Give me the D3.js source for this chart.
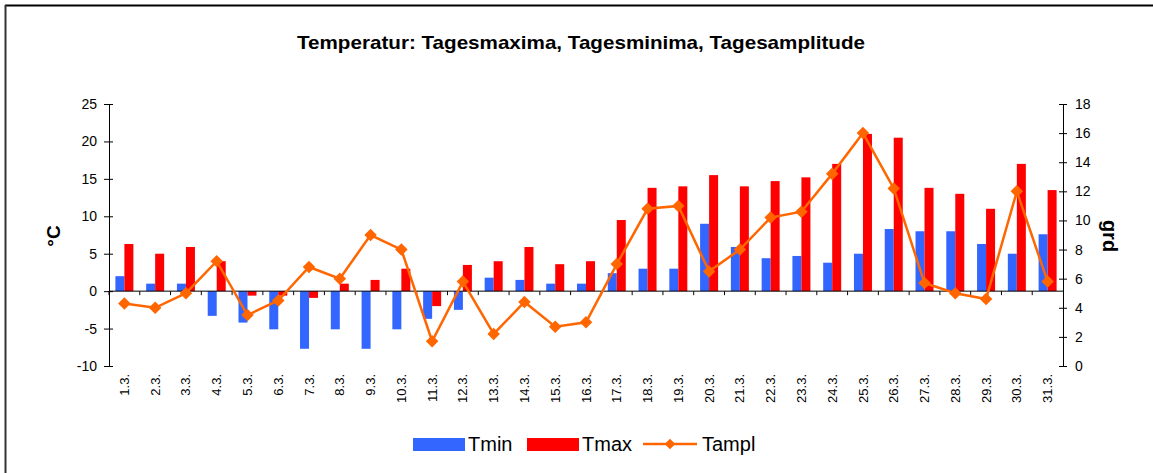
<!DOCTYPE html>
<html>
<head>
<meta charset="utf-8">
<title>Temperatur</title>
<script src="https://d3js.org/d3.v7.min.js"></script>
<style>
  body { margin: 0; background: #fff; }
  svg { display: block; font-family: "Liberation Sans", Arial, sans-serif; }
  .tick text { fill: #000; }
</style>
</head>
<body>
<div id="chart"></div>
<script>
// data
var days = ["1.3.","2.3.","3.3.","4.3.","5.3.","6.3.","7.3.","8.3.","9.3.","10.3.",
            "11.3.","12.3.","13.3.","14.3.","15.3.","16.3.","17.3.","18.3.","19.3.","20.3.",
            "21.3.","22.3.","23.3.","24.3.","25.3.","26.3.","27.3.","28.3.","29.3.","30.3.","31.3."];
var tmin = [2.0, 1.0, 1.0, -3.3, -4.2, -5.1, -7.7, -5.1, -7.7, -5.1,
            -3.7, -2.5, 1.8, 1.5, 1.0, 1.0, 2.4, 3.0, 3.0, 9.0,
            5.9, 4.4, 4.7, 3.8, 5.0, 8.3, 8.0, 8.0, 6.3, 5.0, 7.6];
var tmax = [6.3, 5.0, 5.9, 4.0, -0.6, -0.6, -0.9, 1.0, 1.5, 3.0,
            -2.0, 3.5, 4.0, 5.9, 3.6, 4.0, 9.5, 13.8, 14.0, 15.5,
            14.0, 14.7, 15.2, 17.0, 21.0, 20.5, 13.8, 13.0, 11.0, 17.0, 13.5];
var tampl = [4.3, 4.0, 5.0, 7.2, 3.5, 4.5, 6.8, 6.0, 9.0, 8.0,
             1.7, 5.8, 2.2, 4.4, 2.7, 3.0, 7.0, 10.8, 11.0, 6.5,
             8.0, 10.2, 10.6, 13.2, 16.0, 12.2, 5.7, 5.0, 4.6, 12.0, 5.8];
var leftTicks = [-10, -5, 0, 5, 10, 15, 20, 25];
var rightTicks = [0, 2, 4, 6, 8, 10, 12, 14, 16, 18];

var width = 1153, height = 473;
var plotLeft = 109, plotRight = 1063, plotTop = 104, plotBottom = 366;
var blue = "#3366ff", red = "#ff0000", orange = "#ff6600";

var svg = d3.select("#chart").append("svg")
    .attr("width", width)
    .attr("height", height);

// outer frame (top and left edge only visible)
svg.append("line").attr("x1", 5).attr("x2", width).attr("y1", 5.5).attr("y2", 5.5)
    .attr("stroke", "#000").attr("stroke-width", 2);
svg.append("line").attr("x1", 5.5).attr("x2", 5.5).attr("y1", 5).attr("y2", height)
    .attr("stroke", "#333").attr("stroke-width", 2);

svg.append("text")
    .attr("x", 581).attr("y", 49)
    .attr("text-anchor", "middle")
    .attr("textLength", 568)
    .attr("lengthAdjust", "spacingAndGlyphs")
    .style("font-size", "19px").style("font-weight", "bold")
    .text("Temperatur: Tagesmaxima, Tagesminima, Tagesamplitude");

var x = d3.scaleBand().domain(days).range([plotLeft, plotRight])
    .paddingInner(0.415).paddingOuter(0.2075);
var x1 = d3.scaleBand().domain(["tmin", "tmax"]).range([0, x.bandwidth()]);
var y = d3.scaleLinear().domain([-10, 25]).range([plotBottom, plotTop]);
var y2 = d3.scaleLinear().domain([0, 18]).range([plotBottom, plotTop]);

// bars
var series = [{key: "tmin", values: tmin, color: blue}, {key: "tmax", values: tmax, color: red}];
series.forEach(function(s) {
  svg.append("g").selectAll("rect")
    .data(s.values)
    .enter().append("rect")
    .attr("x", function(d, i) { return x(days[i]) + x1(s.key); })
    .attr("width", x1.bandwidth())
    .attr("y", function(d) { return y(Math.max(0, d)); })
    .attr("height", function(d) { return Math.abs(y(d) - y(0)); })
    .attr("fill", s.color);
});

// left axis (plain hyphen minus like the original)
var yAxis = svg.append("g")
    .attr("transform", "translate(" + plotLeft + ",0)")
    .call(d3.axisLeft(y).tickValues(leftTicks).tickFormat(function(d) { return String(d); })
      .tickSize(5).tickPadding(7));
yAxis.selectAll(".tick line").attr("x2", 4).attr("x1", -5);
yAxis.selectAll("text").style("font-size", "14px");

// right axis
var yAxis2 = svg.append("g")
    .attr("transform", "translate(" + plotRight + ",0)")
    .call(d3.axisRight(y2).tickValues(rightTicks).tickSize(4).tickPadding(8));
yAxis2.selectAll(".tick line").attr("x1", -4).attr("x2", 4);
yAxis2.selectAll("text").style("font-size", "14px");
svg.selectAll(".domain").attr("stroke", "#000");

// category axis along zero line
var zeroY = y(0);
svg.append("line").attr("x1", plotLeft).attr("x2", plotRight)
    .attr("y1", zeroY).attr("y2", zeroY).attr("stroke", "#000");
svg.append("g").selectAll("line")
    .data(days)
    .enter().append("line")
    .attr("x1", function(d) { return x(d) - x.step() * x.paddingInner() / 2; })
    .attr("x2", function(d) { return x(d) - x.step() * x.paddingInner() / 2; })
    .attr("y1", zeroY).attr("y2", zeroY + 4)
    .attr("stroke", "#000");
svg.append("g").selectAll("text")
    .data(days)
    .enter().append("text")
    .attr("transform", function(d) {
      return "translate(" + (x(d) + x.bandwidth() / 2) + "," + (plotBottom + 8) + ") rotate(-90)";
    })
    .attr("text-anchor", "end")
    .attr("dy", "0.35em")
    .style("font-size", "13px")
    .text(function(d) { return d; });

// amplitude line
var line = d3.line()
    .x(function(d, i) { return x(days[i]) + x.bandwidth() / 2; })
    .y(function(d) { return y2(d); });
svg.append("path")
    .datum(tampl)
    .attr("d", line)
    .attr("fill", "none")
    .attr("stroke", orange)
    .attr("stroke-width", 2.5);
svg.append("g").selectAll("path")
    .data(tampl)
    .enter().append("path")
    .attr("d", d3.symbol().type(d3.symbolDiamond2).size(100))
    .attr("transform", function(d, i) {
      return "translate(" + (x(days[i]) + x.bandwidth() / 2) + "," + y2(d) + ")";
    })
    .attr("fill", orange);

// axis titles
svg.append("text")
    .attr("transform", "translate(60,236) rotate(-90)")
    .attr("text-anchor", "middle")
    .style("font-size", "19px").style("font-weight", "bold")
    .text("°C");
svg.append("text")
    .attr("transform", "translate(1103,236) rotate(90)")
    .attr("text-anchor", "middle")
    .style("font-size", "20px").style("font-weight", "bold")
    .text("grd");

// legend
var legend = svg.append("g").style("font-size", "20px");
var items = [{name: "Tmin", color: blue, x: 413}, {name: "Tmax", color: red, x: 527}, {name: "Tampl", color: orange, x: 643, line: true}];
items.forEach(function(it) {
  if (it.line) {
    legend.append("line").attr("x1", it.x).attr("x2", it.x + 54)
      .attr("y1", 444).attr("y2", 444)
      .attr("stroke", it.color).attr("stroke-width", 2.5);
    legend.append("path")
      .attr("d", d3.symbol().type(d3.symbolDiamond2).size(70))
      .attr("transform", "translate(" + (it.x + 27) + ",444)")
      .attr("fill", it.color);
  } else {
    legend.append("rect").attr("x", it.x).attr("y", 438)
      .attr("width", 52).attr("height", 13).attr("fill", it.color);
  }
  legend.append("text").attr("x", it.x + (it.line ? 59 : 55)).attr("y", 451)
    .text(it.name);
});
</script>
</body>
</html>
